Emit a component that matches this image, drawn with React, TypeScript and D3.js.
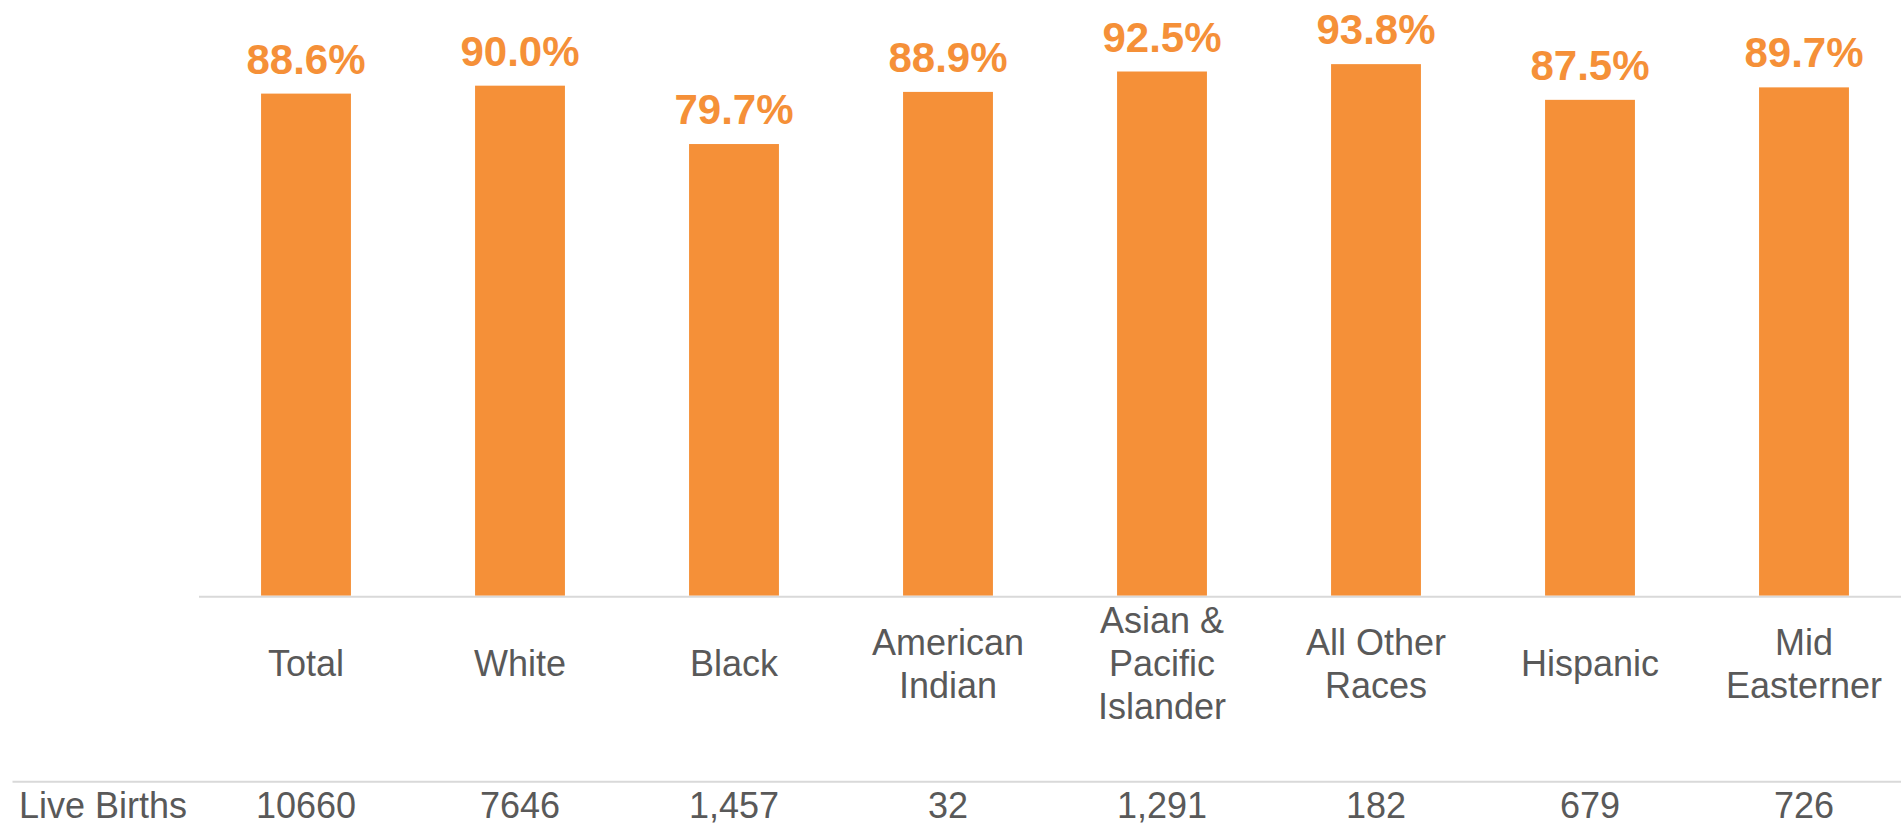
import React from "react";
import * as d3 from "d3";

const categories: string[][] = [
  ["Total"],
  ["White"],
  ["Black"],
  ["American", "Indian"],
  ["Asian &", "Pacific", "Islander"],
  ["All Other", "Races"],
  ["Hispanic"],
  ["Mid", "Easterner"],
];
const percents: number[] = [88.6, 90.0, 79.7, 88.9, 92.5, 93.8, 87.5, 89.7];
const liveBirths: string[] = ["10660", "7646", "1,457", "32", "1,291", "182", "679", "726"];
const rowLabel = "Live Births";

const W = 1901;
const H = 823;
const ORANGE = "#F59038";
const GRAY = "#595959";
const LINE = "#D9D9D9";

export default function App() {
  const keys = categories.map((c) => c.join(" "));
  const x = d3.scaleBand<string>().domain(keys).range([199, 1911]).paddingInner(0).paddingOuter(0);
  const y = d3.scaleLinear().domain([0, 100]).range([595.7, 29]);
  const bw = x.bandwidth();
  const barW = bw * 0.42;
  const font = "'Liberation Sans', Arial, sans-serif";
  const lineH = 43;
  const baseY = 676;

  return (
    <svg
      width={W}
      height={H}
      style={{ position: "absolute", left: 0, top: 0, background: "#fff" }}
      fontFamily={font}
    >
      {keys.map((k, i) => {
        const cx = (x(k) as number) + bw / 2;
        const top = y(percents[i]);
        return (
          <g key={k}>
            <rect x={cx - barW / 2} y={top} width={barW} height={y(0) - top} fill={ORANGE} />
            <text x={cx} y={top - 20} textAnchor="middle" fontSize={42} fontWeight="bold" fill={ORANGE}>
              {percents[i].toFixed(1) + "%"}
            </text>
            {categories[i].map((ln, j) => (
              <text
                key={j}
                x={cx}
                y={baseY - ((categories[i].length - 1) * lineH) / 2 + j * lineH}
                textAnchor="middle"
                fontSize={36}
                fill={GRAY}
              >
                {ln}
              </text>
            ))}
            <text x={cx} y={818} textAnchor="middle" fontSize={36} fill={GRAY}>
              {liveBirths[i]}
            </text>
          </g>
        );
      })}
      <line x1={199} x2={W} y1={y(0) + 1} y2={y(0) + 1} stroke={LINE} strokeWidth={2} />
      <line x1={12.5} x2={W} y1={781.7} y2={781.7} stroke={LINE} strokeWidth={2} />
      <text x={19} y={818} fontSize={36} fill={GRAY}>
        {rowLabel}
      </text>
    </svg>
  );
}
